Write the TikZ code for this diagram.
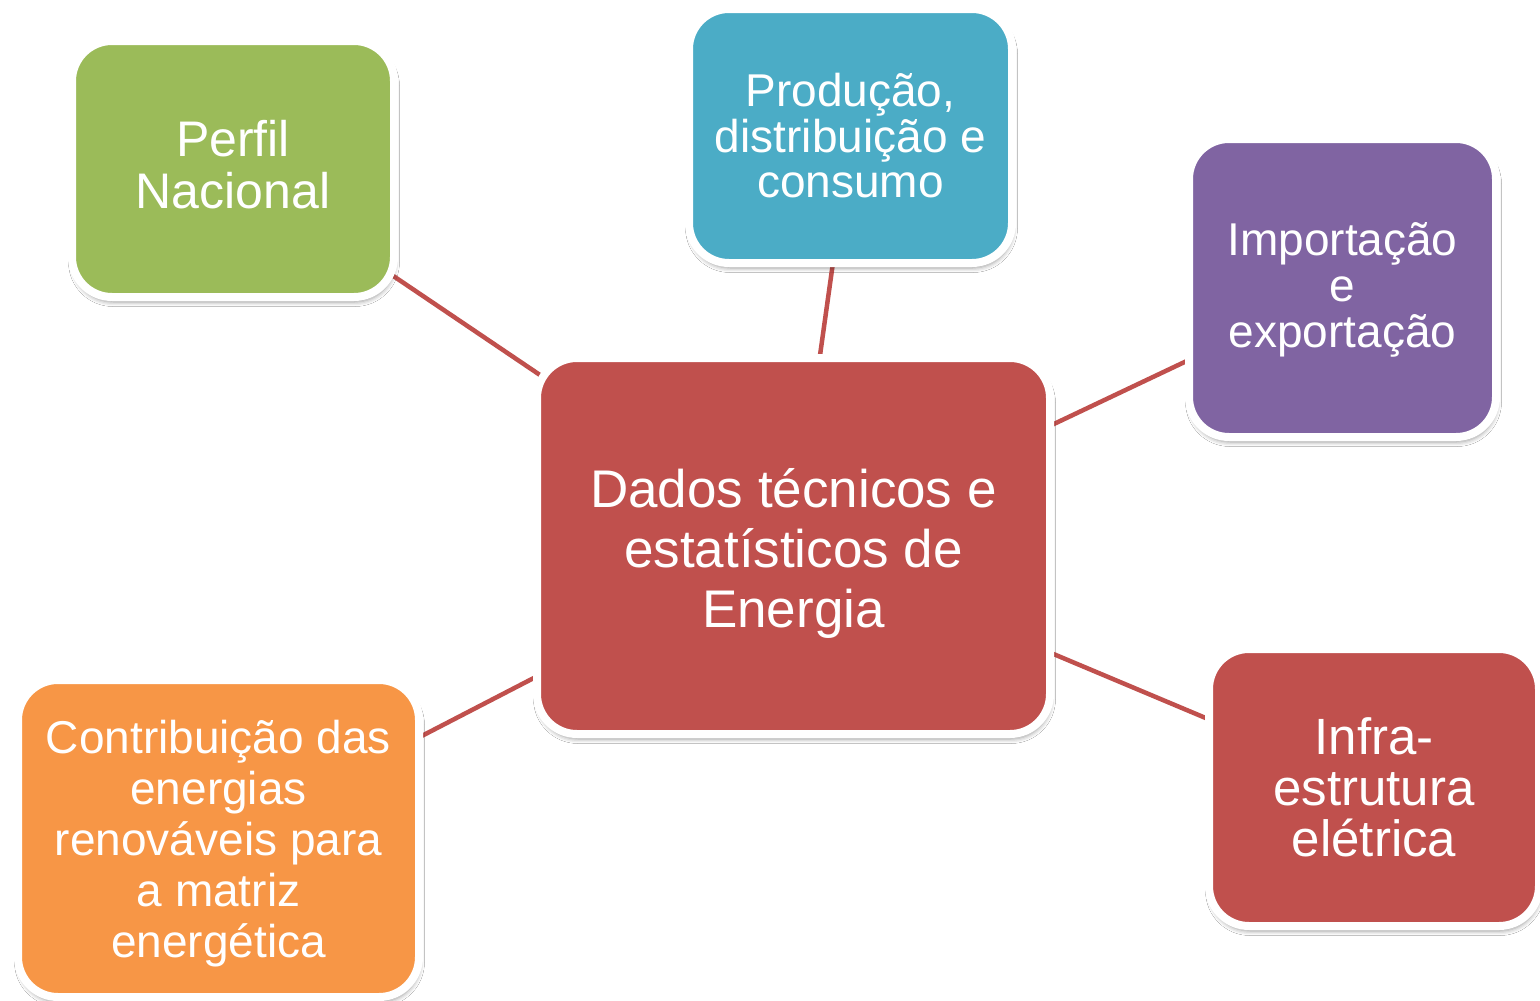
\documentclass[tikz,border=0pt]{standalone}
\usepackage{fontspec}
\setmainfont{Liberation Sans}
\usetikzlibrary{shadows.blur,backgrounds}
\definecolor{cgreen}{HTML}{9BBB59}
\definecolor{cblue}{HTML}{4BACC6}
\definecolor{cpurple}{HTML}{8064A2}
\definecolor{cred}{HTML}{C0504D}
\definecolor{corange}{HTML}{F79646}
\newcommand{\lowertext}[2]{\raisebox{-#1}[\height][\depth]{\begin{tabular}{@{}c@{}}#2\end{tabular}}}
\begin{document}
\begin{tikzpicture}[x=1pt,y=-1pt,
  box/.style={rounded corners=40pt, draw=white, line width=8pt, text=white,
    align=center, inner sep=0pt, outer sep=0pt,
    blur shadow={shadow xshift=1pt, shadow yshift=-5pt, shadow blur radius=4.5pt, shadow opacity=40}},
  link/.style={draw=cred, line width=4.5pt, shorten <=-4pt, shorten >=-4pt}]
\useasboundingbox (0,0) rectangle (1540,1001);

\node[box, fill=cgreen, minimum width=322pt, minimum height=256pt,
  font=\fontsize{50}{51}\selectfont] (perfil) at (233,169) {\lowertext{3pt}{Perfil\\Nacional}};
\node[box, fill=cblue, minimum width=323pt, minimum height=254pt,
  font=\fontsize{46}{45.5}\selectfont] (producao) at (850.5,136) {Produção,\\distribuição e\\consumo};
\node[box, fill=cpurple, minimum width=307pt, minimum height=298pt,
  font=\fontsize{46}{46}\selectfont] (import) at (1342.5,288) {\lowertext{4pt}{Importação\\e\\exportação}};
\node[box, fill=cred, minimum width=513pt, minimum height=376pt,
  font=\fontsize{53}{60}\selectfont] (center) at (793.5,546) {\lowertext{9pt}{Dados técnicos e\\estatísticos de\\Energia}};
\node[box, fill=cred, minimum width=330pt, minimum height=277pt,
  font=\fontsize{51}{51}\selectfont] (infra) at (1374,787.5) {Infra-\\estrutura\\elétrica};
\node[box, fill=corange, minimum width=401pt, minimum height=317pt,
  font=\fontsize{46}{51}\selectfont] (contrib) at (218.5,838.5) {\lowertext{7pt}{Contribuição das\\energias\\renováveis para\\a matriz\\energética}};

\begin{scope}[on background layer]
  \fill[white] (0,0) rectangle (1540,1001);
  \draw[link] (center) -- (perfil);
  \draw[link] (center) -- (producao);
  \draw[link] (center) -- (import);
  \draw[link] (center) -- (infra);
  \draw[link] (center) -- (contrib);
\end{scope}
\end{tikzpicture}
\end{document}
